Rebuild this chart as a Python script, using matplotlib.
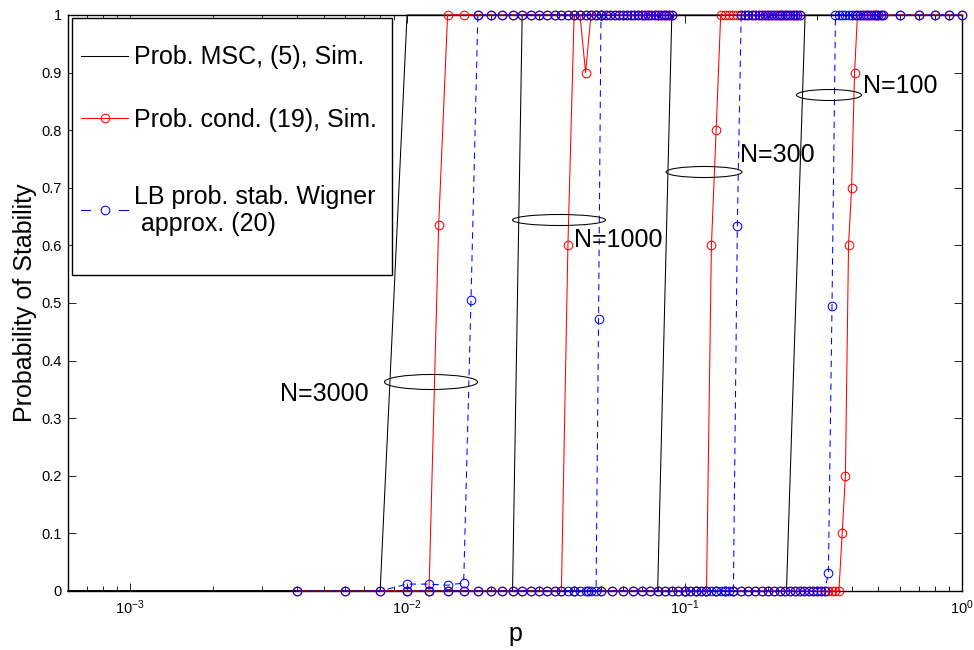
import matplotlib
matplotlib.use('Agg')
import matplotlib.pyplot as plt
from matplotlib.patches import Ellipse, Rectangle
from matplotlib.lines import Line2D
from matplotlib.ticker import LogLocator, FixedLocator, FixedFormatter, NullFormatter

plt.rcParams['font.family'] = ['Liberation Sans', 'DejaVu Sans']
plt.rcParams['mathtext.fontset'] = 'custom'
plt.rcParams['mathtext.rm'] = 'Liberation Sans'
plt.rcParams['mathtext.it'] = 'Liberation Sans:italic'
plt.rcParams['lines.scale_dashes'] = False

# ---------------- data ----------------
# Prob. MSC, (5), Sim.  (black, no markers)
msc_p_3000 = [0.0006, 0.008, 0.010, 0.050]
msc_v_3000 = [0, 0, 1, 1]
msc_p_1000 = [0.0006, 0.024, 0.026, 0.090]
msc_v_1000 = [0, 0, 1, 1]
msc_p_300 = [0.0006, 0.080, 0.090, 0.260]
msc_v_300 = [0, 0, 1, 1]
msc_p_100 = [0.0006, 0.233, 0.272, 1.0]
msc_v_100 = [0, 0, 1, 1]

# Prob. cond. (19), Sim.  (red, circles)
cond_p_3000 = [0.004, 0.006, 0.008, 0.010, 0.012, 0.013, 0.014, 0.016, 0.018, 0.020,
               0.022, 0.024, 0.026, 0.028, 0.030, 0.032, 0.034, 0.036, 0.038, 0.040,
               0.042, 0.044, 0.046, 0.048, 0.050]
cond_v_3000 = [0, 0, 0, 0, 0, 0.635] + [1] * 19

cond_p_1000 = [0.010, 0.012, 0.014, 0.016, 0.018, 0.020, 0.022, 0.024, 0.026, 0.028,
               0.030, 0.032, 0.034, 0.036, 0.038, 0.040, 0.042, 0.044, 0.046, 0.048,
               0.050, 0.052, 0.054, 0.056, 0.058, 0.060, 0.062, 0.064, 0.066, 0.068,
               0.070, 0.072, 0.074, 0.076, 0.078, 0.080, 0.082, 0.084, 0.086, 0.088,
               0.090]
cond_v_1000 = [0] * 14 + [0.6, 1, 1, 0.9] + [1] * 23

cond_p_300 = [0.040, 0.045, 0.050, 0.055, 0.060, 0.065, 0.070, 0.075, 0.080, 0.085,
              0.090, 0.095, 0.100, 0.105, 0.110, 0.115, 0.120, 0.125, 0.130, 0.135,
              0.140, 0.145, 0.150, 0.155, 0.160, 0.165, 0.170, 0.175, 0.180, 0.185,
              0.190, 0.195, 0.200, 0.205, 0.210, 0.215, 0.220, 0.225, 0.230, 0.235,
              0.240, 0.245, 0.250, 0.255, 0.260]
cond_v_300 = [0] * 17 + [0.6, 0.8] + [1] * 26

cond_p_100 = [0.10, 0.11, 0.12, 0.13, 0.14, 0.15, 0.16, 0.17, 0.18, 0.19,
              0.20, 0.21, 0.22, 0.23, 0.24, 0.25, 0.26, 0.27, 0.28, 0.29,
              0.30, 0.31, 0.32, 0.33, 0.34, 0.35, 0.36, 0.37, 0.38, 0.39,
              0.40, 0.41, 0.42, 0.43, 0.44, 0.45, 0.46, 0.47, 0.48, 0.49,
              0.50, 0.51, 0.52, 0.6, 0.7, 0.8, 0.9, 1.0]
cond_v_100 = [0] * 27 + [0.1, 0.2, 0.6, 0.7, 0.9] + [1] * 16

# LB prob. stab. Wigner approx. (20)  (blue, dashed, circles)
lb_p_3000 = [0.004, 0.006, 0.008, 0.010, 0.012, 0.014, 0.016, 0.017, 0.018, 0.020,
             0.022, 0.024, 0.026, 0.028, 0.030, 0.032, 0.034, 0.036, 0.038, 0.040,
             0.042, 0.044, 0.046, 0.048, 0.050]
lb_v_3000 = [0, 0, 0, 0.012, 0.012, 0.010, 0.014, 0.505] + [1] * 17

lb_p_1000 = [0.010, 0.012, 0.014, 0.016, 0.018, 0.020, 0.022, 0.024, 0.026, 0.028,
             0.030, 0.032, 0.034, 0.036, 0.038, 0.040, 0.042, 0.044, 0.046, 0.048,
             0.049, 0.050, 0.052, 0.054, 0.056, 0.058, 0.060, 0.062, 0.064, 0.066,
             0.068, 0.070, 0.072, 0.074, 0.076, 0.078, 0.080, 0.082, 0.084, 0.086,
             0.088, 0.090]
lb_v_1000 = [0] * 20 + [0.472] + [1] * 21

lb_p_300 = cond_p_300
lb_v_300 = [0] * 23 + [0.634] + [1] * 21

lb_p_100 = cond_p_100
lb_v_100 = [0] * 23 + [0.031, 0.495] + [1] * 23

group_labels = ['N=3000', 'N=1000', 'N=300', 'N=100']
yticks = [0, 0.1, 0.2, 0.3, 0.4, 0.5, 0.6, 0.7, 0.8, 0.9, 1]
ytick_labels = ['0', '0.1', '0.2', '0.3', '0.4', '0.5', '0.6', '0.7', '0.8', '0.9', '1']

legend_labels = ['Prob. MSC, (5), Sim.', 'Prob. cond. (19), Sim.',
                 'LB prob. stab. Wigner', ' approx. (20)']

# ---------------- figure ----------------
W, H = 974, 650
fig = plt.figure(figsize=(W / 100, H / 100), dpi=100)
ax = fig.add_axes([68 / W, 59 / H, 894 / W, 576 / H])

def fx(x):
    return x / W

def fy(y):
    return 1 - y / H

lw = 0.75
ms = 6.2
mew = 0.75
blue_dash = (0, (4.6, 3.6))

for p, v in [(msc_p_3000, msc_v_3000), (msc_p_1000, msc_v_1000),
             (msc_p_300, msc_v_300), (msc_p_100, msc_v_100)]:
    ax.plot(p, v, color='black', lw=lw, clip_on=False, zorder=2)

for p, v in [(cond_p_3000, cond_v_3000), (cond_p_1000, cond_v_1000),
             (cond_p_300, cond_v_300), (cond_p_100, cond_v_100)]:
    ax.plot(p, v, color='red', lw=lw, marker='o', ms=ms, mfc='none', mew=mew,
            clip_on=False, zorder=3)

for p, v in [(lb_p_3000, lb_v_3000), (lb_p_1000, lb_v_1000),
             (lb_p_300, lb_v_300), (lb_p_100, lb_v_100)]:
    ax.plot(p, v, color='blue', lw=lw, linestyle=blue_dash, marker='o', ms=ms,
            mfc='none', mew=mew, clip_on=False, zorder=4)

ax.set_xscale('log')
ax.set_xlim(6e-4, 1)
ax.set_ylim(0, 1)
ax.xaxis.set_major_locator(LogLocator(base=10, numticks=10))
ax.xaxis.set_minor_locator(LogLocator(base=10, subs=range(2, 10), numticks=50))
ax.xaxis.set_minor_formatter(NullFormatter())
ax.yaxis.set_major_locator(FixedLocator(yticks))
ax.yaxis.set_major_formatter(FixedFormatter(ytick_labels))

ax.tick_params(which='both', direction='in', top=True, right=True, width=0.6)
ax.tick_params(which='major', length=6)
ax.tick_params(which='minor', length=3.5)
ax.tick_params(axis='y', labelsize=10.5, pad=4.5)
ax.tick_params(axis='x', labelsize=10.5, pad=5)
for s in ax.spines.values():
    s.set_linewidth(1.0)

ax.set_xlabel('p', fontsize=18, labelpad=4)
ax.set_ylabel('Probability of Stability', fontsize=18, labelpad=3)

# ---------------- legend (drawn manually, MATLAB style) ----------------
fig.add_artist(Rectangle((fx(72), fy(275)), fx(392) - fx(72), fy(18) - fy(275),
                         transform=fig.transFigure, facecolor='white',
                         edgecolor='black', lw=1.0, zorder=5))
fig.add_artist(Line2D([fx(81), fx(128)], [fy(56), fy(56)], transform=fig.transFigure,
                      color='black', lw=lw, zorder=6))
fig.add_artist(Line2D([fx(81), fx(128)], [fy(118), fy(118)], transform=fig.transFigure,
                      color='red', lw=lw, zorder=6))
fig.add_artist(Line2D([fx(104.5)], [fy(118)], transform=fig.transFigure, color='red',
                      marker='o', ms=ms, mfc='none', mew=mew, zorder=6))
fig.add_artist(Line2D([fx(81), fx(90)], [fy(210), fy(210)], transform=fig.transFigure,
                      color='blue', lw=lw, zorder=6))
fig.add_artist(Line2D([fx(119), fx(128)], [fy(210), fy(210)], transform=fig.transFigure,
                      color='blue', lw=lw, zorder=6))
fig.add_artist(Line2D([fx(104.5)], [fy(210)], transform=fig.transFigure, color='blue',
                      marker='o', ms=ms, mfc='none', mew=mew, zorder=6))
fig.text(fx(134), fy(64), legend_labels[0], fontsize=18, va='baseline', zorder=7)
fig.text(fx(134), fy(127), legend_labels[1], fontsize=18, va='baseline', zorder=7)
fig.text(fx(134), fy(204), legend_labels[2], fontsize=18, va='baseline', zorder=7)
fig.text(fx(134), fy(231), legend_labels[3], fontsize=18, va='baseline', zorder=7)

# ---------------- group annotations ----------------
ellipses = [(431, 382, 93, 15), (559, 220, 93, 11), (704, 172, 76, 11), (829, 95, 65, 11)]
label_pos = [(280, 401), (574, 247), (740, 162), (863, 93)]
for (cx, cy, w, h), (tx, ty), lab in zip(ellipses, label_pos, group_labels):
    fig.add_artist(Ellipse((fx(cx), fy(cy)), w / W, h / H, transform=fig.transFigure,
                           facecolor='none', edgecolor='black', lw=0.75, zorder=6))
    fig.text(fx(tx), fy(ty), lab, fontsize=18, va='baseline', ha='left', zorder=7)

fig.savefig('out.png', dpi=100)
